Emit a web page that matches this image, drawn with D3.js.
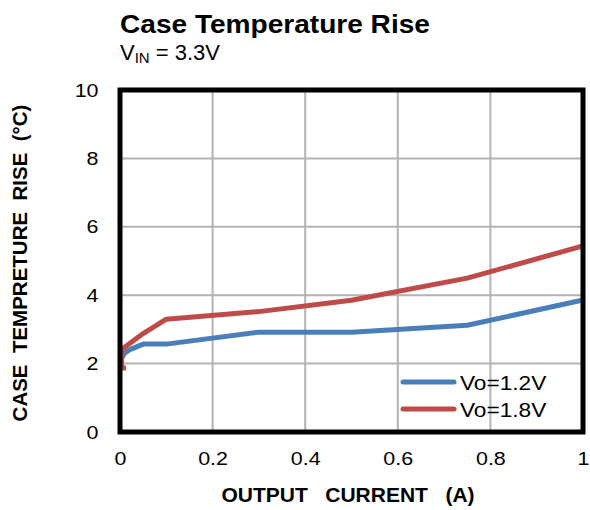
<!DOCTYPE html>
<html><head><meta charset="utf-8">
<script src="https://cdn.jsdelivr.net/npm/d3@7"></script>
<style>body{margin:0;background:#fff}svg{font-family:Arial,"Liberation Sans",sans-serif}</style>
</head><body><svg id="c" width="590" height="510"></svg>
<script>
const seriesNames = ["Vo=1.2V", "Vo=1.8V"];
const seriesColors = ["#4a7ebb", "#be4b48"];
const current12 = [0, 0.005, 0.01, 0.02, 0.05, 0.1, 0.3, 0.5, 0.75, 1];
const temp12 = [2.05, 2.2, 2.3, 2.4, 2.57, 2.57, 2.92, 2.92, 3.12, 3.86];
const current18 = [0.013, 0.003, 0.004, 0.05, 0.1, 0.3, 0.5, 0.75, 1];
const temp18 = [1.87, 1.87, 2.42, 2.88, 3.3, 3.52, 3.85, 4.5, 5.44];
const xTicks = [0, 0.2, 0.4, 0.6, 0.8, 1];
const yTicks = [0, 2, 4, 6, 8, 10];

const svg = d3.select("#c");
const L = 120, R = 583, T = 90, B = 432;
const x = d3.scaleLinear().domain([0, 1]).range([L, R]);
const y = d3.scaleLinear().domain([0, 10]).range([B, T]);

// gridlines
svg.append("g").selectAll("line").data(xTicks.slice(1, -1)).join("line")
  .attr("x1", d => x(d)).attr("x2", d => x(d)).attr("y1", T).attr("y2", B)
  .attr("stroke", "#b3b3b3").attr("stroke-width", 2);
svg.append("g").selectAll("line").data(yTicks.slice(1, -1)).join("line")
  .attr("y1", d => y(d)).attr("y2", d => y(d)).attr("x1", L).attr("x2", R)
  .attr("stroke", "#b3b3b3").attr("stroke-width", 2);

// axes labels via d3 axes
const xAxis = svg.append("g").attr("transform", `translate(0,${B})`)
  .call(d3.axisBottom(x).tickValues(xTicks).tickFormat(d3.format("~g")).tickSize(0).tickPadding(20));
const yAxis = svg.append("g").attr("transform", `translate(${L},0)`)
  .call(d3.axisLeft(y).tickValues(yTicks).tickSize(0).tickPadding(19));
[xAxis, yAxis].forEach(a => {
  a.select(".domain").remove();
  a.selectAll("text").attr("font-size", 19).attr("fill", "#000")
    .attr("font-family", "Arial, 'Liberation Sans', sans-serif")
    .attr("transform", "scale(1.13,1)");
});

// lines
const line = d3.line().x(d => x(d[0])).y(d => y(d[1]));
const data = [current12.map((c, i) => [c, temp12[i]]), current18.map((c, i) => [c, temp18[i]])];
svg.append("g").selectAll("path").data(data).join("path")
  .attr("d", line).attr("fill", "none")
  .attr("stroke", (d, i) => seriesColors[i]).attr("stroke-width", 5)
  .attr("stroke-linejoin", "round");

// frame
svg.append("rect").attr("x", L).attr("y", T).attr("width", R - L).attr("height", B - T)
  .attr("fill", "none").attr("stroke", "#000").attr("stroke-width", 5);

// legend
const lg = svg.append("g");
seriesNames.forEach((n, i) => {
  const ly = 382 + i * 27;
  lg.append("line").attr("x1", 403).attr("x2", 454).attr("y1", ly).attr("y2", ly)
    .attr("stroke", seriesColors[i]).attr("stroke-width", 5).attr("stroke-linecap", "round");
  lg.append("text").attr("transform", `translate(460,${ly + 8}) scale(1.08,1)`)
    .attr("font-size", 21).text(n);
});

// titles
svg.append("text").attr("transform", "translate(120,33) scale(1.08,1)")
  .attr("font-size", 26).attr("font-weight", "bold")
  .text("Case Temperature Rise");
const sub = svg.append("text").attr("x", 120).attr("y", 60).attr("font-size", 22);
sub.append("tspan").text("V");
sub.append("tspan").attr("font-size", 15).attr("dy", 3).text("IN");
sub.append("tspan").attr("dy", -3).text(" = 3.3V");

svg.append("text").attr("x", 348).attr("y", 502).attr("text-anchor", "middle")
  .attr("font-size", 21).attr("font-weight", "bold").attr("xml:space", "preserve")
  .text("OUTPUT   CURRENT   (A)");
svg.append("text").attr("transform", `translate(27,263) rotate(-90)`)
  .attr("text-anchor", "middle").attr("font-size", 20.5).attr("font-weight", "bold")
  .attr("xml:space", "preserve")
  .text("CASE  TEMPRETURE  RISE  (°C)");
</script></body></html>
